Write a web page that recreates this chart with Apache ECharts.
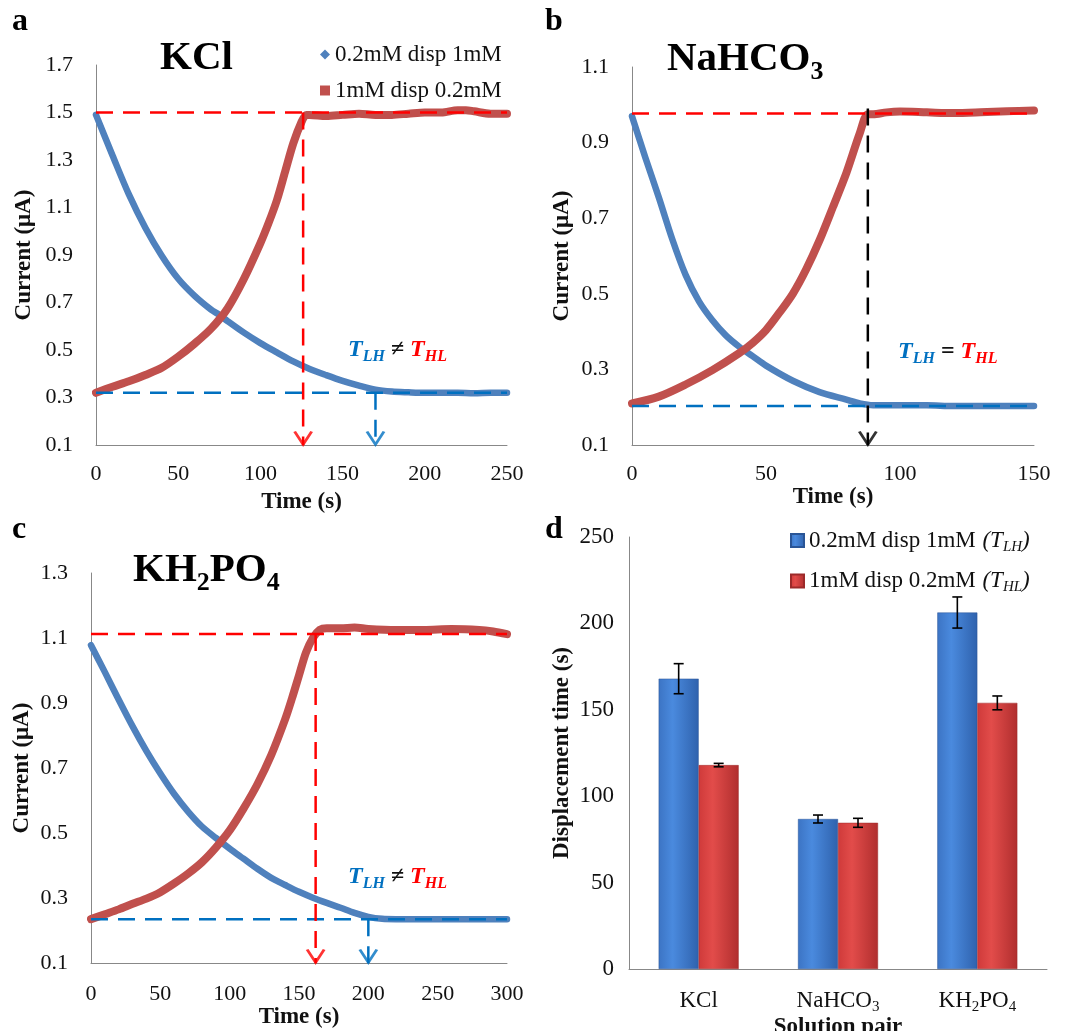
<!DOCTYPE html>
<html><head><meta charset="utf-8">
<script src="https://cdn.jsdelivr.net/npm/echarts@6/dist/echarts.min.js"></script>
<style>html,body{margin:0;padding:0;background:#fff}#c{width:1067px;height:1031px}</style>
</head><body><div id="c"></div>
<script>
// ---------- Panel a : KCl ----------
const tBlueA = [0,10,20,30,40,50,60,70,75,80,90,100,110,120,130,140,150,160,170,180,190,200,210,220,230,240,250];
const blueA  = [1.49,1.32,1.155,1.015,0.897,0.8,0.728,0.67,0.648,0.622,0.573,0.529,0.49,0.452,0.42,0.394,0.37,0.35,0.333,0.325,0.322,0.32,0.32,0.32,0.318,0.32,0.32];
const tRedA  = [0,10,20,30,40,50,60,70,80,90,100,105,110,115,120,125,128,130,140,150,160,170,180,190,200,210,220,225,230,240,250];
const redA   = [0.32,0.345,0.368,0.395,0.425,0.472,0.527,0.59,0.675,0.8,0.95,1.035,1.13,1.25,1.37,1.46,1.49,1.49,1.485,1.49,1.495,1.49,1.49,1.495,1.5,1.5,1.51,1.51,1.505,1.495,1.495];
const levelsA = [1.5, 0.32];      // high / low plateau
const timesA  = [126, 170];       // T_HL , T_LH
// ---------- Panel b : NaHCO3 ----------
const tBlueB = [0,5,10,15,20,25,30,35,40,45,50,60,70,80,85,90,100,110,120,130,140,150];
const blueB  = [0.97,0.86,0.755,0.645,0.55,0.48,0.43,0.39,0.36,0.335,0.31,0.27,0.24,0.22,0.21,0.205,0.205,0.205,0.203,0.203,0.203,0.203];
const tRedB  = [0,10,20,30,40,45,50,55,60,65,70,75,80,85,88,90,95,100,110,120,130,140,150];
const redB   = [0.21,0.228,0.26,0.298,0.343,0.37,0.404,0.45,0.5,0.565,0.642,0.73,0.82,0.925,0.975,0.975,0.98,0.982,0.98,0.978,0.98,0.983,0.985];
const levelsB = [0.977, 0.203];
const timesB  = [88];
const vTopB   = 0.99;
// ---------- Panel c : KH2PO4 ----------
const tBlueC = [0,10,20,30,40,50,60,70,80,90,100,110,120,130,140,150,160,170,180,190,200,210,220,240,260,280,300];
const blueC  = [1.078,0.995,0.91,0.828,0.752,0.683,0.62,0.566,0.52,0.485,0.452,0.421,0.39,0.362,0.34,0.319,0.301,0.285,0.27,0.254,0.242,0.236,0.235,0.235,0.235,0.235,0.235];
const tRedC  = [0,10,20,30,40,50,60,70,80,90,100,110,120,130,140,145,150,155,160,165,170,180,190,200,220,240,260,280,290,300];
const redC   = [0.235,0.25,0.265,0.282,0.298,0.318,0.345,0.375,0.41,0.455,0.508,0.575,0.65,0.74,0.85,0.915,0.985,1.055,1.1,1.125,1.13,1.13,1.132,1.128,1.125,1.125,1.128,1.125,1.12,1.112];
const levelsC = [1.112, 0.235];
const timesC  = [162, 200];
// ---------- Panel d : displacement times ----------
const pairs  = ['KCl','NaHCO3','KH2PO4'];
const tLH    = [168, 86.8, 206.3];
const errLH  = [8.7, 2.3, 9];
const tHL    = [118, 84.6, 154];
const errHL  = [1, 2.6, 4];

const FONT = 'Liberation Serif';
const BLUE = '#4F81BD', RED = '#C0504D';
const DRED = '#FF0000', DBLUE = '#0070C0';
const N1 = '0.2mM disp 1mM', N2 = '1mM disp 0.2mM';

const zip = (t, v) => t.map((x, i) => [x, v[i]]);
const chevron = 'path://M0,0 L10,12 L20,0';

function curve(name, t, v, color, w, idx, z) {
  return {type:'line', name, xAxisIndex:idx, yAxisIndex:idx, data: zip(t, v), showSymbol:false, symbol:'none',
    smooth:0.3, color, lineStyle:{color, width:w, cap:'round', join:'round'}, z, silent:true};
}
function hline(y, x0, x1, color, idx) {
  return {type:'line', xAxisIndex:idx, yAxisIndex:idx, data:[[x0,y],[x1,y]], symbol:'none', silent:true,
    lineStyle:{color, width:2.5, type:[17,10]}, z:5};
}
function vline(x, y0, y1, color, idx) {
  return {type:'line', xAxisIndex:idx, yAxisIndex:idx, data:[[x,y0],[x,y1]], symbol:'none', silent:true,
    lineStyle:{color, width:2.5, type:[17,10]}, z:5};
}
function arrow(x, y, color, idx) {
  return {type:'scatter', xAxisIndex:idx, yAxisIndex:idx, data:[[x,y]], symbol:chevron, symbolSize:[17,13],
    symbolOffset:[0,-7], silent:true, itemStyle:{color:'none', borderColor:color, borderWidth:2.6}, z:6};
}

const axisLabel = {fontFamily:FONT, fontSize:22, color:'#111'};
const axisLine = {show:true, lineStyle:{color:'#888', width:1}};
const nameStyle = {fontFamily:FONT, fontSize:23, fontWeight:'bold', color:'#111'};

function valX(idx, max, nameGap, margin) {
  return {type:'value', gridIndex:idx, min:0, max, interval:50, axisLine, axisTick:{show:false}, splitLine:{show:false},
    axisLabel:{...axisLabel, margin}, name:'Time (s)', nameLocation:'middle', nameGap, nameTextStyle:nameStyle};
}
function valY(idx, max, nameGap) {
  return {type:'value', gridIndex:idx, min:0.1, max, interval:0.2, axisLine, axisTick:{show:false}, splitLine:{show:false},
    axisLabel:{...axisLabel, margin:23, formatter:v => v.toFixed(1)},
    name:'Current (μA)', nameLocation:'middle', nameGap, nameRotate:90, nameTextStyle:nameStyle};
}

// subscripts: padding-top P on a middle-aligned token lowers it by P/2
const subRich = {
  m:{fontFamily:FONT, fontSize:23, color:'#111', lineHeight:30},
  s:{fontFamily:FONT, fontSize:15, color:'#111', padding:[13,0,0,0]}
};
const pairLabel = {KCl:'{m|KCl}', NaHCO3:'{m|NaHCO}{s|3}', KH2PO4:'{m|KH}{s|2}{m|PO}{s|4}'};

const titleRich = {
  m:{fontFamily:FONT, fontSize:41, fontWeight:'bold', color:'#000', lineHeight:56},
  s:{fontFamily:FONT, fontSize:26, fontWeight:'bold', color:'#000', padding:[27,0,0,0]}
};
const tRich = {
  b:{fontFamily:FONT, fontSize:24, fontWeight:'bold', fontStyle:'italic', color:DBLUE, lineHeight:32},
  bs:{fontFamily:FONT, fontSize:16, fontStyle:'italic', color:DBLUE, padding:[14,0,0,0]},
  r:{fontFamily:FONT, fontSize:24, fontWeight:'bold', fontStyle:'italic', color:DRED, lineHeight:32},
  rs:{fontFamily:FONT, fontSize:16, fontStyle:'italic', color:DRED, padding:[14,0,0,0]},
  k:{fontFamily:FONT, fontSize:24, color:'#111', lineHeight:32}
};
function ttl(text, left, top, rich) {
  return {text, left, top, padding:0, textStyle:{rich}};
}
const letterStyle = {fontFamily:FONT, fontSize:32, fontWeight:'bold', color:'#000'};

const barBlue = new echarts.graphic.LinearGradient(0,0,1,0,[
  {offset:0, color:'#3c74c4'},{offset:0.35, color:'#4a8ade'},{offset:1, color:'#2f62ad'}]);
const barRed = new echarts.graphic.LinearGradient(0,0,1,0,[
  {offset:0, color:'#cf3a3a'},{offset:0.35, color:'#e24c4a'},{offset:1, color:'#b02e2e'}]);

function errSeries(vals, errs, offset) {
  return {type:'custom', xAxisIndex:3, yAxisIndex:3, z:10, silent:true,
    data: vals.map((v, i) => [i, v, errs[i]]),
    encode:{x:0, y:1},
    renderItem(params, api) {
      const i = api.value(0), v = api.value(1), e = api.value(2);
      const hi = api.coord([i, v + e]), lo = api.coord([i, v - e]);
      const x = hi[0] + offset, cw = 5;
      const st = {stroke:'#000', lineWidth:1.6};
      return {type:'group', children:[
        {type:'line', shape:{x1:x, y1:hi[1], x2:x, y2:lo[1]}, style:st},
        {type:'line', shape:{x1:x-cw, y1:hi[1], x2:x+cw, y2:hi[1]}, style:st},
        {type:'line', shape:{x1:x-cw, y1:lo[1], x2:x+cw, y2:lo[1]}, style:st}
      ]};
    }};
}

const option = {
  backgroundColor:'#fff',
  animation:false,
  title:[
    {text:'a', left:12, top:6, padding:0, textStyle:letterStyle},
    {text:'b', left:545, top:6, padding:0, textStyle:letterStyle},
    {text:'c', left:12, top:514, padding:0, textStyle:letterStyle},
    {text:'d', left:545, top:514, padding:0, textStyle:letterStyle},
    ttl('{m|KCl}', 160, 30, titleRich),
    ttl('{m|NaHCO}{s|3}', 667, 31, titleRich),
    ttl('{m|KH}{s|2}{m|PO}{s|4}', 133, 542, titleRich),
    ttl('{b|T}{bs|LH}{k| ≠ }{r|T}{rs|HL}', 348, 334, tRich),
    ttl('{b|T}{bs|LH}{k| = }{r|T}{rs|HL}', 898, 336, tRich),
    ttl('{b|T}{bs|LH}{k| ≠ }{r|T}{rs|HL}', 348, 861, tRich)
  ],
  legend:[
    {data:[{name:N1, icon:'diamond'},{name:N2, icon:'rect'}], orient:'vertical', left:315, top:38,
     itemWidth:10, itemHeight:10, itemGap:13, selectedMode:false,
     textStyle:{fontFamily:FONT, fontSize:23, color:'#111'}},
    {data:['LH','HL'], orient:'vertical', left:785, top:524, itemWidth:13, itemHeight:13, itemGap:15, selectedMode:false,
     icon:'rect',
     formatter: n => n === 'LH' ? '{n|0.2mM disp 1mM}  {i|(T}{is|LH}{i|)}' : '{n|1mM disp 0.2mM}  {i|(T}{is|HL}{i|)}',
     textStyle:{rich:{
       n:{fontFamily:FONT, fontSize:23, color:'#111', lineHeight:30},
       i:{fontFamily:FONT, fontSize:23, fontStyle:'italic', color:'#111', lineHeight:30},
       is:{fontFamily:FONT, fontSize:15, fontStyle:'italic', color:'#111', padding:[13,0,0,0]}
     }}}
  ],
  grid:[
    {left:96, top:65, width:411, height:380, outerBoundsMode:'none', containLabel:false},
    {left:632, top:67, width:402, height:378, outerBoundsMode:'none', containLabel:false},
    {left:91, top:573, width:416, height:390, outerBoundsMode:'none', containLabel:false},
    {left:629, top:537, width:418, height:432, outerBoundsMode:'none', containLabel:false}
  ],
  xAxis:[
    valX(0, 250, 46, 18),
    valX(1, 150, 26, 18),
    valX(2, 300, 26, 20),
    {type:'category', gridIndex:3, data:pairs, axisLine, axisTick:{show:false},
     axisLabel:{margin:17, interval:0, formatter:v => pairLabel[v], rich:subRich},
     name:'Solution pair', nameLocation:'middle', nameGap:42, nameTextStyle:nameStyle}
  ],
  yAxis:[
    valY(0, 1.7, 60),
    valY(1, 1.1, 58),
    valY(2, 1.3, 57),
    {type:'value', gridIndex:3, min:0, max:250, interval:50, axisLine, axisTick:{show:false}, splitLine:{show:false},
     axisLabel:{...axisLabel, fontSize:23, margin:15},
     name:'Displacement time (s)', nameLocation:'middle', nameGap:55, nameRotate:90, nameTextStyle:nameStyle}
  ],
  series:[
    // a
    curve(N1, tBlueA, blueA, BLUE, 6.5, 0, 2),
    curve(N2, tRedA, redA, RED, 8, 0, 3),
    hline(levelsA[0], 0, 250, DRED, 0),
    hline(levelsA[1], 0, 250, DBLUE, 0),
    vline(timesA[0], levelsA[0], 0.1, DRED, 0),
    vline(timesA[1], levelsA[1], 0.1, DBLUE, 0),
    arrow(timesA[0], 0.1, DRED, 0),
    arrow(timesA[1], 0.1, DBLUE, 0),
    // b
    curve(N1, tBlueB, blueB, BLUE, 6.5, 1, 2),
    curve(N2, tRedB, redB, RED, 8, 1, 3),
    hline(levelsB[0], 0, 150, DRED, 1),
    hline(levelsB[1], 0, 150, DBLUE, 1),
    vline(timesB[0], vTopB, 0.1, '#000', 1),
    arrow(timesB[0], 0.1, '#000', 1),
    // c
    curve(N1, tBlueC, blueC, BLUE, 6.5, 2, 2),
    curve(N2, tRedC, redC, RED, 8, 2, 3),
    hline(levelsC[0], 0, 300, DRED, 2),
    hline(levelsC[1], 0, 300, DBLUE, 2),
    vline(timesC[0], levelsC[0], 0.1, DRED, 2),
    vline(timesC[1], levelsC[1], 0.1, DBLUE, 2),
    arrow(timesC[0], 0.1, DRED, 2),
    arrow(timesC[1], 0.1, DBLUE, 2),
    // d
    {type:'bar', name:'LH', xAxisIndex:3, yAxisIndex:3, data:tLH, barWidth:40, barGap:'0%',
     itemStyle:{color:barBlue, borderColor:'#2a5596', borderWidth:0.5}, color:'#3a78cc', silent:true},
    {type:'bar', name:'HL', xAxisIndex:3, yAxisIndex:3, data:tHL, barWidth:40, barGap:'0%',
     itemStyle:{color:barRed, borderColor:'#9c2a2a', borderWidth:0.5}, color:'#d84242', silent:true},
    errSeries(tLH, errLH, -20),
    errSeries(tHL, errHL, 20)
  ]
};
const chart = echarts.init(document.getElementById('c'), null, {renderer:'canvas'});
chart.setOption(option);
</script>
</body></html>
